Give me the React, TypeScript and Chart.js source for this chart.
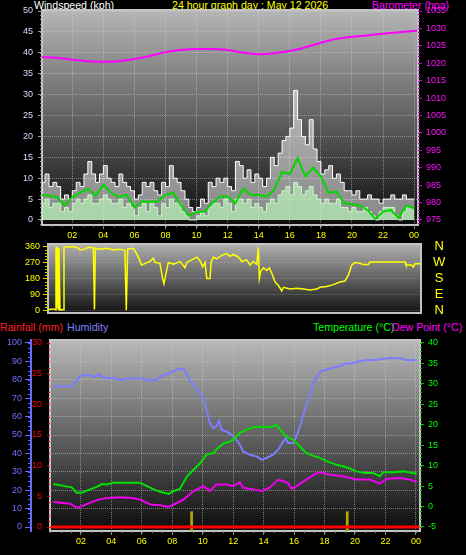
import React, { useEffect, useRef } from "react";
import { Chart, registerables } from "chart.js";

Chart.register(...registerables);

// ---------------- tick labels ----------------
const hourTickValues = [2, 4, 6, 8, 10, 12, 14, 16, 18, 20, 22, 24];
const hourTickLabels = ["02", "04", "06", "08", "10", "12", "14", "16", "18", "20", "22", "00"];
const windTicks = [0, 5, 10, 15, 20, 25, 30, 35, 40, 45, 50];
const baroTicks = [975, 980, 985, 990, 995, 1000, 1005, 1010, 1015, 1020, 1025, 1030, 1035];
const dirTicks = [0, 90, 180, 270, 360];
const dirLetters = ["N", "W", "S", "E", "N"]; // top to bottom
const humTicks = [0, 10, 20, 30, 40, 50, 60, 70, 80, 90, 100];
const rainTicks = [0, 5, 10, 15, 20, 25, 30];
const tempTicks = [-5, 0, 5, 10, 15, 20, 25, 30, 35, 40];

// ---------------- wind (kph), readings every 15 minutes ----------------
const windInterval = 0.25;
const windGust = [
  9, 11, 8, 9, 8, 5, 6, 5, 7, 9, 8, 11, 14, 11, 9, 11, 13, 10, 9, 8, 11, 9, 8, 7,
  5, 6, 9, 8, 9, 7, 6, 9, 8, 13, 10, 9, 7, 5, 3, 2, 3, 5, 4, 9, 8, 10, 9, 10,
  8, 7, 14, 13, 10, 12, 9, 11, 10, 8, 10, 15, 13, 16, 19, 20, 22, 31, 24, 20, 18, 24, 17, 14,
  11, 12, 13, 10, 11, 9, 7, 7, 6, 7, 5, 5, 6, 5, 5, 4, 5, 5, 6, 5, 5, 6, 5, 5, 5,
];
const windSpeed = [
  4, 5, 3, 4, 4, 2, 3, 2, 4, 5, 4, 5, 6, 4, 4, 5, 6, 5, 4, 4, 5, 3, 4, 3,
  1, 3, 4, 2, 4, 3, 1, 4, 3, 5, 4, 4, 2, 1, 0, 0, 1, 2, 1, 3, 4, 4, 3, 5,
  4, 2, 5, 5, 4, 5, 3, 4, 3, 2, 4, 5, 4, 6, 7, 8, 6, 9, 8, 6, 7, 8, 6, 5,
  4, 5, 4, 4, 5, 3, 3, 2, 3, 2, 2, 3, 2, 1, 0, 2, 3, 3, 3, 1, 0, 2, 3, 3, 3,
];
// 10-minute average wind, every 30 minutes
const avgInterval = 0.5;
const windAvg = [
  6.0, 5.8, 5.5, 3.5, 5.5, 6.5, 7.5, 5.8, 8.5, 6.5, 5.5, 6.0, 3.0, 4.5, 4.3, 4.5,
  6.0, 6.5, 3.5, 1.0, 2.0, 2.0, 4.0, 5.6, 5.6, 4.0, 7.5, 6.0, 6.0, 5.6, 7.2, 11.5,
  11.0, 14.8, 10.5, 12.5, 10.4, 6.5, 6.8, 4.0, 3.8, 3.5, 2.4, 0.2, 2.0, 2.4, 0.5, 3.4, 2.8,
];

// ---------------- barometer (hPa), hourly ----------------
const baroHours = [0, 1, 2, 3, 4, 5, 6, 7, 8, 9, 10, 11, 12, 13, 14, 15, 16, 17, 18, 19, 20, 21, 22, 23, 24.2];
const baroValues = [
  1021.8, 1021.6, 1021.0, 1020.6, 1020.4, 1020.6, 1021.2, 1022.1, 1023.2, 1023.8, 1024.1, 1024.1,
  1023.8, 1023.0, 1022.6, 1022.9, 1023.5, 1024.6, 1025.9, 1027.0, 1027.6, 1028.0, 1028.5, 1028.9, 1029.3,
];

// ---------------- wind direction (degrees) ----------------
const dirHours = [
  0.0, 0.35, 0.48, 0.52, 0.56, 0.61, 0.67, 0.71, 0.78, 0.89,
  1.0, 1.04, 1.21, 1.65, 1.97, 2.08, 2.4, 2.62, 2.95, 3.02,
  3.08, 3.38, 3.82, 4.25, 4.68, 5.0, 5.09, 5.18, 5.44, 5.59,
  5.72, 5.87, 6.09, 6.31, 6.63, 6.85, 6.96, 7.28, 7.46, 7.54,
  7.65, 7.82, 8.15, 8.58, 8.91, 9.02, 9.34, 9.67, 9.88, 10.06,
  10.21, 10.32, 10.54, 10.6, 10.75, 10.97, 11.29, 11.62, 11.84, 12.05,
  12.38, 12.6, 12.92, 13.14, 13.35, 13.57, 13.68, 13.74, 13.83, 14.0,
  14.22, 14.39, 14.54, 14.76, 14.98, 15.2, 15.3, 15.74, 16.17, 16.6,
  17.04, 17.47, 17.68, 18.12, 18.55, 18.98, 19.31, 19.53, 19.75, 19.96,
  20.29, 20.5, 20.83, 20.93, 21.58, 22.45, 23.21, 23.27, 23.64, 23.75,
  23.86, 24.22,
];
const dirDegrees = [
  5, 8, 3, 355, 10, 358, 5, 350, 2, 5,
  3, 355, 358, 358, 352, 340, 345, 355, 352, 5,
  350, 345, 350, 340, 345, 338, 0, 345, 350, 345,
  325, 300, 255, 265, 275, 295, 270, 265, 175, 150,
  200, 270, 260, 275, 240, 270, 285, 300, 280, 245,
  270, 180, 180, 270, 300, 290, 310, 320, 305, 315,
  300, 275, 285, 255, 275, 260, 355, 180, 220, 240,
  225, 240, 210, 160, 140, 110, 130, 120, 125, 120,
  115, 120, 130, 135, 145, 160, 165, 200, 255, 270,
  265, 258, 258, 272, 273, 273, 272, 255, 255, 245,
  262, 262,
];

// ---------------- humidity (%) ----------------
const humTimes = [
  0.19, 1.4, 1.72, 2.05, 2.6, 2.9, 3.2, 3.47, 4.3, 4.67, 5.0, 5.9, 6.55, 6.9, 7.4, 7.85,
  8.3, 8.6, 8.83, 9.16, 9.6, 10.04, 10.25, 10.47, 10.7, 10.9, 11.08, 11.24, 11.56, 11.9,
  12.2, 12.44, 12.66, 13.1, 13.54, 13.87, 14.2, 14.6, 14.96, 15.29, 15.46, 15.6, 15.94,
  16.16, 16.38, 16.7, 17.04, 17.37, 17.7, 18.13, 18.79, 19.45, 19.78, 20.1, 20.65, 21.2,
  21.85, 22.5, 23.17, 23.39, 24.05,
];
const humValues = [
  76.4, 76.6, 79.8, 82.5, 82.5, 81.6, 83, 81.3, 80.7, 79.8, 80.7, 80.7, 79.8, 79.8, 82.5, 83.8,
  85.6, 86.1, 85.2, 79.8, 75.3, 69.9, 63.6, 56.4, 53.7, 54.6, 57.8, 52.8, 51.9, 50.1,
  47.4, 44.7, 41.1, 39.3, 38.4, 36.6, 37.5, 39.3, 42, 46.5, 48.3, 45.6, 45.6,
  49.2, 54.6, 63.6, 71.7, 79.8, 84.3, 85.6, 87, 88.8, 88.8, 89.7, 90.6, 90.6,
  91.5, 91.9, 91.5, 90.6, 90.6,
];

// ---------------- temperature (°C) ----------------
const tempTimes = [
  0.19, 1.4, 1.72, 2.05, 2.6, 3.15, 3.37, 3.7, 4.14, 4.58, 5.9, 6.34, 6.78, 7.2, 7.77,
  8.1, 8.5, 8.97, 9.4, 9.85, 10.25, 10.7, 11.0, 11.4, 11.8, 12.1, 12.44, 12.9, 13.3, 13.75,
  14.2, 14.6, 14.83, 15.1, 15.5, 15.94, 16.38, 16.8, 17.26, 17.7, 18.13, 18.8, 19.45, 20.1,
  20.65, 21.2, 21.64, 21.85, 22.5, 23.17, 24.05,
];
const tempValues = [
  5.5, 4.7, 3.4, 3.4, 4.2, 5.0, 5.5, 5.4, 5.9, 5.8, 5.8, 5.0, 4.2, 3.6, 3.1,
  3.8, 4.3, 7.4, 9.0, 10.7, 12.7, 13.1, 14.3, 15.5, 15.9, 16.7, 18.0, 18.8, 19.4, 19.6,
  19.4, 19.6, 20.0, 18.8, 17.1, 16.3, 14.7, 13.1, 12.4, 11.9, 11.1, 10.2, 9.6, 8.6,
  8.2, 8.2, 7.4, 8.4, 8.4, 8.6, 8.0,
];

// ---------------- dew point (°C) ----------------
const dewTimes = [
  0.19, 1.3, 1.72, 2.05, 2.6, 3.15, 3.7, 4.58, 5.4, 5.9, 6.56, 7.2, 7.77, 8.1, 8.74,
  9.4, 10.04, 10.47, 10.9, 11.56, 12.0, 12.44, 12.66, 13.3, 13.87, 14.4, 14.96, 15.29,
  15.6, 15.83, 16.16, 16.8, 17.5, 17.7, 18.35, 19.2, 20.1, 20.98, 21.64, 22.1, 22.95,
  23.6, 24.05,
];
const dewValues = [
  1.1, 0.7, -0.3, 0.1, 0.9, 1.7, 2.1, 2.3, 2.1, 1.7, 0.5, 0.3, -0.1, 0.5, 1.7,
  3.8, 5.0, 3.8, 5.4, 5.4, 5.0, 5.9, 4.6, 4.2, 3.8, 4.6, 6.6, 6.2,
  5.8, 4.3, 5.0, 6.6, 8.2, 8.4, 7.8, 7.4, 6.6, 6.6, 5.6, 6.8, 7.0,
  6.6, 6.1,
];

// ---------------- rainfall (mm) ----------------
const rainTimes = [0, 6, 12, 18, 24.25];
const rainTotals = [0, 0, 0, 0, 0];
const rainEventTimes = [9.27, 19.49];
const rainEventHeights = [2.5, 2.5];

// ---------------- styling ----------------
const SANS = "'Liberation Sans', Arial, sans-serif";
const NARROW = "'Liberation Sans Narrow', 'Liberation Sans', Arial, sans-serif";
const TICK_FONT = { family: NARROW, size: 9 };
const GRID = "rgba(210,210,210,0.5)";
const YELLOW = "#ffff00";
const RAIN_MIN = -0.651;

Chart.defaults.font.family = SANS;

const pts = (xs: number[], ys: number[]) => xs.map((x, i) => ({ x, y: ys[i] }));
const seq = (vals: number[], step: number) => vals.map((_, i) => i * step);
const plain = (v: any) => String(v);

const zeroPad = (s: any) => {
  s.paddingTop = 0;
  s.paddingBottom = 0;
  s.paddingLeft = 0;
  s.paddingRight = 0;
};
const fixW = (w: number) => (s: any) => {
  s.width = w;
  zeroPad(s);
};
const fixH = (h: number) => (s: any) => {
  s.height = h;
  zeroPad(s);
};
const setTicks = (values: number[]) => (s: any) => {
  s.ticks = values.map((v) => ({ value: v }));
};

type Minor = { id: string; step: number; len: number; color: string };

function minorTicksPlugin(items: Minor[]) {
  return {
    id: "minorTicks",
    afterDraw(chart: any) {
      const ctx = chart.ctx;
      ctx.save();
      ctx.lineWidth = 1;
      for (const it of items) {
        const s = chart.scales[it.id];
        if (!s) continue;
        ctx.strokeStyle = it.color;
        ctx.beginPath();
        const k0 = Math.ceil(s.min / it.step - 1e-6);
        const k1 = Math.floor(s.max / it.step + 1e-6);
        for (let k = k0; k <= k1; k++) {
          const p = Math.round(s.getPixelForValue(k * it.step)) + 0.5;
          if (s.isHorizontal()) {
            ctx.moveTo(p, s.top);
            ctx.lineTo(p, s.top + it.len);
          } else if (s.position === "left") {
            ctx.moveTo(s.right - it.len, p);
            ctx.lineTo(s.right, p);
          } else {
            ctx.moveTo(s.left, p);
            ctx.lineTo(s.left + it.len, p);
          }
        }
        ctx.stroke();
      }
      ctx.restore();
    },
  };
}

function plotBgPlugin(top: string, bottom: string) {
  return {
    id: "plotBg",
    beforeDraw(chart: any) {
      const { ctx, chartArea: a } = chart;
      const g = ctx.createLinearGradient(0, a.top, 0, a.bottom);
      g.addColorStop(0, top);
      g.addColorStop(1, bottom);
      ctx.save();
      ctx.fillStyle = g;
      ctx.fillRect(a.left, a.top, a.right - a.left, a.bottom - a.top);
      ctx.restore();
    },
    beforeDatasetsDraw(chart: any) {
      const { ctx, chartArea: a } = chart;
      ctx.save();
      ctx.strokeStyle = "#c4c4c4";
      ctx.lineWidth = 2;
      ctx.strokeRect(a.left, a.top, a.right - a.left, a.bottom - a.top);
      ctx.restore();
    },
  };
}

const baseOptions = {
  responsive: false,
  maintainAspectRatio: false,
  animation: false,
  events: [],
};

function hourAxis(min: number, max: number, height: number) {
  return {
    type: "linear",
    position: "bottom",
    min,
    max,
    bounds: "data",
    offset: false,
    afterBuildTicks: setTicks(hourTickValues),
    afterFit: fixH(height),
    ticks: {
      color: YELLOW,
      font: TICK_FONT,
      padding: 1,
      autoSkip: false,
      maxRotation: 0,
      callback: (_v: any, i: number) => hourTickLabels[i],
    },
    grid: { color: GRID, tickColor: "#8a8a8a", tickLength: 4, offset: false },
    border: { display: false, dash: [1, 1] },
  };
}

function valueAxis(
  position: string,
  min: number,
  max: number,
  ticks: number[],
  width: number,
  color: string,
  tickColor: string,
  tickLength: number,
  padding: number,
  onArea: boolean,
  extra: any = {}
) {
  return {
    type: "linear",
    position,
    min,
    max,
    bounds: "data",
    afterBuildTicks: setTicks(ticks),
    afterFit: fixW(width),
    ticks: { color, font: TICK_FONT, padding, autoSkip: false, callback: plain },
    grid: { color: GRID, drawOnChartArea: onArea, tickColor, tickLength },
    border: { display: false, dash: [1, 1] },
    ...extra,
  };
}

function windConfig(): any {
  return {
    type: "line",
    data: {
      datasets: [
        {
          data: pts(baroHours, baroValues),
          yAxisID: "yBaro",
          borderColor: "#ff00ff",
          borderWidth: 2,
          pointRadius: 0,
          cubicInterpolationMode: "monotone",
          fill: false,
        },
        {
          data: pts(seq(windAvg, avgInterval), windAvg),
          yAxisID: "y",
          borderColor: "#00d800",
          borderWidth: 2,
          pointRadius: 0,
          fill: false,
        },
        {
          data: pts(seq(windSpeed, windInterval), windSpeed),
          yAxisID: "y",
          borderColor: "#d0f8d0",
          backgroundColor: "rgba(196,246,196,0.85)",
          borderWidth: 1,
          stepped: true,
          pointRadius: 0,
          fill: "origin",
        },
        {
          data: pts(seq(windGust, windInterval), windGust),
          yAxisID: "y",
          borderColor: "#ffffff",
          backgroundColor: "rgba(255,255,255,0.5)",
          borderWidth: 1,
          stepped: true,
          pointRadius: 0,
          fill: "-1",
        },
      ],
    },
    options: {
      ...baseOptions,
      layout: { padding: { top: 10, left: 0, right: 0, bottom: 0 } },
      plugins: { legend: { display: false }, tooltip: { enabled: false } },
      scales: {
        x: hourAxis(0.05, 24.25, 15),
        y: valueAxis("left", -1.2, 50.24, windTicks, 42, "#d4deff", "#9a9a9a", 4, 5, true),
        yBaro: valueAxis("right", 973.56, 1035.29, baroTicks, 48, "#ff10ff", "#d000d0", 4, 4, false),
      },
    },
    plugins: [
      plotBgPlugin("#b6b6b6", "#0c0c0c"),
      minorTicksPlugin([
        { id: "y", step: 1, len: 2, color: "#9a9a9a" },
        { id: "yBaro", step: 1, len: 2, color: "#c000c0" },
        { id: "x", step: 2 / 3, len: 2, color: "#8a8a8a" },
      ]),
    ],
  };
}

function dirConfig(): any {
  return {
    type: "line",
    data: {
      datasets: [
        {
          data: pts(dirHours, dirDegrees),
          yAxisID: "y",
          borderColor: "#ffff00",
          borderWidth: 1.5,
          pointRadius: 0,
          fill: false,
        },
      ],
    },
    options: {
      ...baseOptions,
      layout: { padding: { top: 4, left: 0, right: 9, bottom: 5 } },
      plugins: { legend: { display: false }, tooltip: { enabled: false } },
      scales: {
        x: { type: "linear", min: 0, max: 24.25, bounds: "data", offset: false, display: false },
        y: valueAxis("left", -15, 374, dirTicks, 48, YELLOW, "#e8e800", 5, 3, true, {
          grid: { color: "rgba(210,210,210,0.3)", tickColor: "#e8e800", tickLength: 5 },
        }),
        yDir: {
          type: "linear",
          position: "right",
          min: -15,
          max: 374,
          bounds: "data",
          afterBuildTicks: setTicks(dirTicks),
          afterFit: fixW(36),
          ticks: {
            color: YELLOW,
            font: { family: SANS, size: 13 },
            padding: 12,
            crossAlign: "center",
            autoSkip: false,
            callback: (_v: any, i: number) => dirLetters[dirLetters.length - 1 - i],
          },
          grid: { display: false, drawTicks: false, tickLength: 0 },
          border: { display: false },
        },
      },
    },
    plugins: [
      plotBgPlugin("#b0b0b0", "#121212"),
      minorTicksPlugin([{ id: "y", step: 18, len: 3, color: "#d8d800" }]),
    ],
  };
}

function climateConfig(): any {
  return {
    type: "line",
    data: {
      datasets: [
        {
          data: pts(rainTimes, rainTotals),
          yAxisID: "yRain",
          borderColor: "#ff0000",
          borderWidth: 3,
          pointRadius: 0,
          fill: false,
        },
        {
          data: pts(dewTimes, dewValues),
          yAxisID: "yTemp",
          borderColor: "#ee00ee",
          borderWidth: 2,
          pointRadius: 0,
          fill: false,
        },
        {
          data: pts(tempTimes, tempValues),
          yAxisID: "yTemp",
          borderColor: "#00e000",
          borderWidth: 2,
          pointRadius: 0,
          fill: false,
        },
        {
          data: pts(humTimes, humValues),
          yAxisID: "yHum",
          borderColor: "#7c7cff",
          borderWidth: 2,
          pointRadius: 0,
          fill: false,
        },
        {
          type: "bar",
          data: rainEventTimes.map((x, i) => ({ x, y: [RAIN_MIN, rainEventHeights[i]] })),
          yAxisID: "yRain",
          backgroundColor: "#b8a800",
          borderWidth: 0,
          barThickness: 2,
        },
      ],
    },
    options: {
      ...baseOptions,
      layout: { padding: { top: 22, left: 0, right: 0, bottom: 0 } },
      plugins: { legend: { display: false }, tooltip: { enabled: false } },
      scales: {
        x: hourAxis(-0.03, 24.27, 24),
        yHum: valueAxis("left", -2.17, 101.63, humTicks, 31, "#7070ff", "#6a6aff", 6, 3, true, {
          weight: 1,
          border: { display: true, color: "#6a6aff", width: 2, dash: [1, 1] },
        }),
        yRain: valueAxis("left", RAIN_MIN, 30.49, rainTicks, 19, "#ff0000", "#e00000", 3, 5, false, {
          weight: 0,
        }),
        yTemp: valueAxis("right", -5.98, 40.73, tempTicks, 46, "#00ff00", "#00c000", 4, 4, false),
      },
    },
    plugins: [
      plotBgPlugin("#b8b8b8", "#0c0c0c"),
      minorTicksPlugin([
        { id: "yHum", step: 2.5, len: 3, color: "#6a6aff" },
        { id: "yRain", step: 1, len: 2, color: "#d00000" },
        { id: "yTemp", step: 1, len: 2, color: "#00c000" },
        { id: "x", step: 2 / 3, len: 2, color: "#8a8a8a" },
      ]),
    ],
  };
}

const textStyle = (left: number, top: number, color: string): React.CSSProperties => ({
  position: "absolute",
  left,
  top,
  color,
  fontFamily: SANS,
  fontSize: 10.6,
  lineHeight: "11px",
  whiteSpace: "nowrap",
});

export default function App() {
  const windRef = useRef<HTMLCanvasElement>(null);
  const dirRef = useRef<HTMLCanvasElement>(null);
  const climRef = useRef<HTMLCanvasElement>(null);

  useEffect(() => {
    const charts = [
      new Chart(windRef.current as HTMLCanvasElement, windConfig()),
      new Chart(dirRef.current as HTMLCanvasElement, dirConfig()),
      new Chart(climRef.current as HTMLCanvasElement, climateConfig()),
    ];
    return () => charts.forEach((c) => c.destroy());
  }, []);

  return (
    <div
      style={{
        position: "fixed",
        left: 0,
        top: 0,
        width: 466,
        height: 555,
        background: "#000",
        overflow: "hidden",
      }}
    >
      <span style={textStyle(34, 0, "#ffffff")}>Windspeed (kph)</span>
      <span style={textStyle(172, 0, "#ffff00")}>24 hour graph day : May 12 2026</span>
      <span style={textStyle(372, 0, "#ff00ff")}>Barometer (hpa)</span>
      <span style={textStyle(0, 322, "#ff2020")}>Rainfall (mm)</span>
      <span style={textStyle(67, 322, "#8080ff")}>Humidity</span>
      <span style={textStyle(313, 322, "#00ff00")}>Temperature (°C)</span>
      <span style={textStyle(392, 322, "#ff00ff")}>Dew Point (°C)</span>
      <canvas ref={windRef} width={466} height={240} style={{ position: "absolute", left: 0, top: 0 }} />
      <canvas ref={dirRef} width={466} height={78} style={{ position: "absolute", left: 0, top: 240 }} />
      <canvas ref={climRef} width={466} height={237} style={{ position: "absolute", left: 0, top: 318 }} />
    </div>
  );
}
